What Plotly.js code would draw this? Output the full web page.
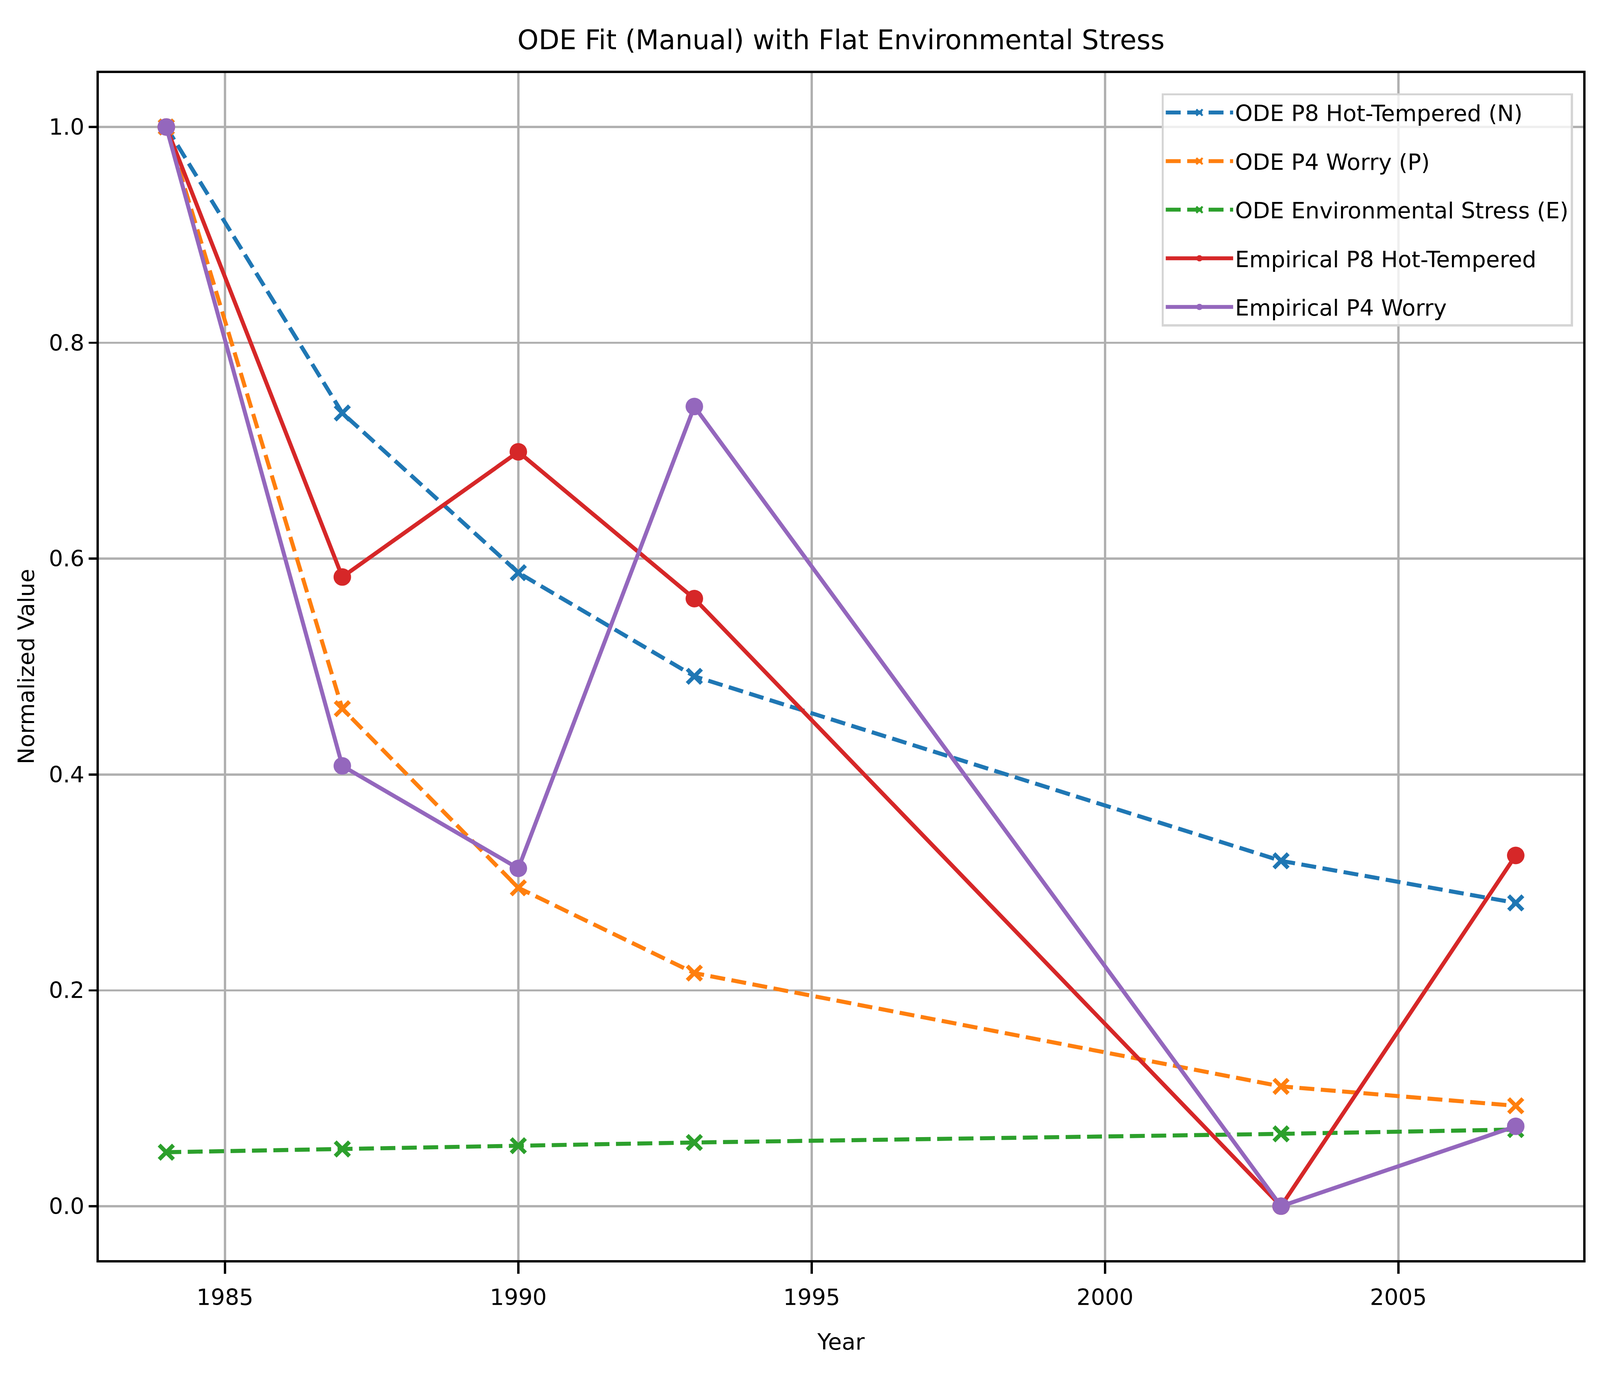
<!DOCTYPE html>
<html>
<head>
<meta charset="utf-8">
<script src="https://cdn.plot.ly/plotly-3.0.1.min.js"></script>
<style>html,body{margin:0;padding:0;background:#fff;overflow:hidden;}#chart{display:block;}</style>
</head>
<body>
<div id="chart"></div>
<script>
const years = [1984, 1987, 1990, 1993, 2003, 2007];
const odeN = [1.0, 0.735, 0.587, 0.491, 0.320, 0.281];
const odeP = [1.0, 0.461, 0.295, 0.216, 0.111, 0.093];
const odeE = [0.050, 0.053, 0.056, 0.059, 0.067, 0.071];
const empP8 = [1.0, 0.583, 0.699, 0.563, 0.0, 0.325];
const empP4 = [1.0, 0.408, 0.313, 0.741, 0.0, 0.074];
const names = ["ODE P8 Hot-Tempered (N)", "ODE P4 Worry (P)", "ODE Environmental Stress (E)", "Empirical P8 Hot-Tempered", "Empirical P4 Worry"];
const xTicks = [1985, 1990, 1995, 2000, 2005];
const yTicks = [0.0, 0.2, 0.4, 0.6, 0.8, 1.0];

// The window may be narrower than the reference; fill it and scale each direction.
const vw = window.innerWidth || document.documentElement.clientWidth || 5936;
const vh = window.innerHeight || document.documentElement.clientHeight || 3538;
const sx = vw / 5936, sy = vh / 3538, sm = Math.sqrt(sx * sy);
const W = vw, H = vh;
const el = document.getElementById('chart');
el.style.width = W + 'px';
el.style.height = H + 'px';

const LW = 12.5 * sm;
function odeTrace(y, name, color, g) {
  return {x: years, y: y, name: name, legendgroup: g, type: 'scatter', mode: 'lines+markers',
    line: {color: color, width: LW, dash: (46*sm) + 'px,' + (20*sm) + 'px'},
    marker: {symbol: 'x-thin-open', size: 44*sm, color: color, line: {color: color, width: LW}}};
}
function empTrace(y, name, color, g) {
  return {x: years, y: y, name: name, legendgroup: g, type: 'scatter', mode: 'lines+markers',
    line: {color: color, width: LW},
    marker: {symbol: 'circle', size: 54*sm, color: color, line: {width: 0}}};
}
const data = [
  odeTrace(odeN, names[0], '#1f77b4', 'g1'),
  odeTrace(odeP, names[1], '#ff7f0e', 'g2'),
  odeTrace(odeE, names[2], '#2ca02c', 'g3'),
  empTrace(empP8, names[3], '#d62728', 'g4'),
  empTrace(empP4, names[4], '#9467bd', 'g5')
];
const font = 'DejaVu Sans, sans-serif';
const fs = 83 * sx;
const axisCommon = {
  showline: true, mirror: true, linecolor: '#000', linewidth: 6.7*sm,
  showgrid: true, gridcolor: '#b0b0b0', gridwidth: 6.7*sm,
  ticks: 'outside', tickwidth: 6.7*sm, tickcolor: '#000',
  zeroline: false, tickfont: {family: font, size: fs, color: '#000'}
};
const layout = {
  width: W, height: H,
  paper_bgcolor: '#fff', plot_bgcolor: '#fff',
  margin: {l: 367*sx, r: 62*sx, t: 187*sy, b: 312*sy, pad: 0},
  title: {text: 'ODE Fit (Manual) with Flat Environmental Stress', font: {family: font, size: 100*sx, color: '#000'},
    x: 0.5, xref: 'paper', xanchor: 'center', y: 1 - 102/3538, yref: 'container', yanchor: 'middle'},
  xaxis: Object.assign({}, axisCommon, {range: [1982.85, 2008.15], tickvals: xTicks, ticktext: xTicks.map(String),
    ticklen: 29*sy, ticklabelstandoff: 12*sy,
    title: {text: 'Year', font: {family: font, size: fs, color: '#000'}, standoff: 62*sy}}),
  yaxis: Object.assign({}, axisCommon, {range: [-0.05, 1.05], tickvals: yTicks, ticktext: yTicks.map(v => v.toFixed(1)),
    ticklen: 29*sx,
    title: {text: 'Normalized Value', font: {family: font, size: fs, color: '#000'}, standoff: 30*sx}}),
  legend: {x: 0.9931, xanchor: 'right', y: 0.983, yanchor: 'top', bgcolor: 'rgba(255,255,255,0.8)',
    bordercolor: '#d5d5d5', borderwidth: 6.7*sm, font: {family: font, size: fs, color: '#000'},
    itemwidth: 250*sx, tracegroupgap: 47*sy, traceorder: 'grouped'},
  showlegend: true
};
Plotly.newPlot('chart', data, layout, {displayModeBar: false, staticPlot: true});
</script>
</body>
</html>
